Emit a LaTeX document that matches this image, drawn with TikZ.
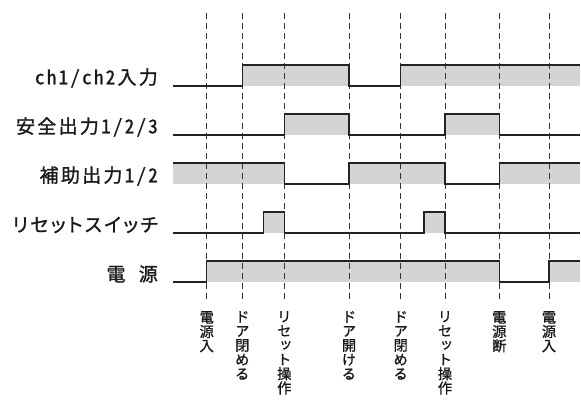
\documentclass[tikz,border=0pt]{standalone}
\usepackage{fontspec}
\newfontfamily\jpfont[LetterSpace=12,RawFeature={+hwid;+palt},FakeBold=1.2]{Noto Sans CJK JP}
\newfontfamily\jpvfont[RawFeature=+vert,FakeBold=1]{Noto Sans CJK JP}
\usetikzlibrary{positioning}
\definecolor{sigfill}{RGB}{212,212,212}
\definecolor{sigline}{RGB}{35,35,35}
\tikzset{
	row label/.style={font=\jpfont\fontsize{19}{19}\selectfont,inner sep=0pt,text=black!90},
	ev label/.style={align=center,font=\jpvfont\fontsize{14.3}{14.3}\selectfont,inner sep=0pt,text=black!90},
	sig/.style={draw=sigline,line width=1.1pt,line join=miter},
	band/.style={fill=sigfill},
	guide/.style={draw=black!80,line width=0.7pt,dash pattern=on 6pt off 4pt}
}

\begin{document}
\begin{tikzpicture}[x=1pt,y=-1pt]
	\useasboundingbox (0,0) rectangle (581,401);
	% gray bands (signal high)
	\fill[band] (242.3,65) rectangle (349,86);
	\fill[band] (400.7,65) rectangle (580,86);
	\fill[band] (284.3,114) rectangle (349,135);
	\fill[band] (445,114) rectangle (499.3,135);
	\fill[band] (173,163) rectangle (284.3,184);
	\fill[band] (349,163) rectangle (445,184);
	\fill[band] (499.3,163) rectangle (580,184);
	\fill[band] (263.3,212) rectangle (284.3,233);
	\fill[band] (424,212) rectangle (445,233);
	\fill[band] (206.7,261) rectangle (499.3,282);
	\fill[band] (549,261) rectangle (580,282);
	% event guides
	\foreach \x [count=\i] in {206.7,242.3,284.3,349,400.7,445,499.3,549}{
		\coordinate (t\i) at (\x,13);
		\coordinate (b\i) at (\x,300);
		\draw[guide] (t\i) -- (b\i);
	}
	% signals
	\coordinate (s1) at (173,86);
	\coordinate (s2) at (173,135);
	\coordinate (s3) at (173,184);
	\coordinate (s4) at (173,233);
	\coordinate (s5) at (173,282);
	\draw[sig] (s1) -- (242.3,86) -- (242.3,65) -- (349,65) -- (349,86) -- (400.7,86) -- (400.7,65) -- (580,65);
	\draw[sig] (s2) -- (284.3,135) -- (284.3,114) -- (349,114) -- (349,135) -- (445,135) -- (445,114) -- (499.3,114) -- (499.3,135) -- (580,135);
	\draw[sig] (173,163) -- (284.3,163) -- (284.3,184) -- (349,184) -- (349,163) -- (445,163) -- (445,184) -- (499.3,184) -- (499.3,163) -- (580,163);
	\draw[sig] (s4) -- (263.3,233) -- (263.3,212) -- (284.3,212) -- (284.3,233) -- (424,233) -- (424,212) -- (445,212) -- (445,233) -- (580,233);
	\draw[sig] (s5) -- (206.7,282) -- (206.7,261) -- (499.3,261) -- (499.3,282) -- (549,282) -- (549,261) -- (580,261);
	% row labels
	\node[row label,left=15pt of s1,yshift=8pt] (ch) {ch1/ch2入力};
	\node[row label,left=15pt of s2,yshift=8pt] (safe) {安全出力1/2/3};
	\node[row label,left=15pt of s3,yshift=8pt] (aux) {補助出力1/2};
	\node[row label,left=15pt of s4,yshift=8pt] (rst) {リセットスイッチ};
	\node[row label,left=15pt of s5,yshift=8pt] (pwr) {電\hspace{0.7em}源};
	% event labels
	\node[ev label,below=11pt of b1] (e1) {電\\源\\入};
	\node[ev label,below=11pt of b2] (e2) {ド\\ア\\閉\\め\\る};
	\node[ev label,below=11pt of b3] (e3) {リ\\セ\\ッ\\ト\\操\\作};
	\node[ev label,below=11pt of b4] (e4) {ド\\ア\\開\\け\\る};
	\node[ev label,below=11pt of b5] (e5) {ド\\ア\\閉\\め\\る};
	\node[ev label,below=11pt of b6] (e6) {リ\\セ\\ッ\\ト\\操\\作};
	\node[ev label,below=11pt of b7] (e7) {電\\源\\断};
	\node[ev label,below=11pt of b8] (e8) {電\\源\\入};
\end{tikzpicture}
\end{document}
